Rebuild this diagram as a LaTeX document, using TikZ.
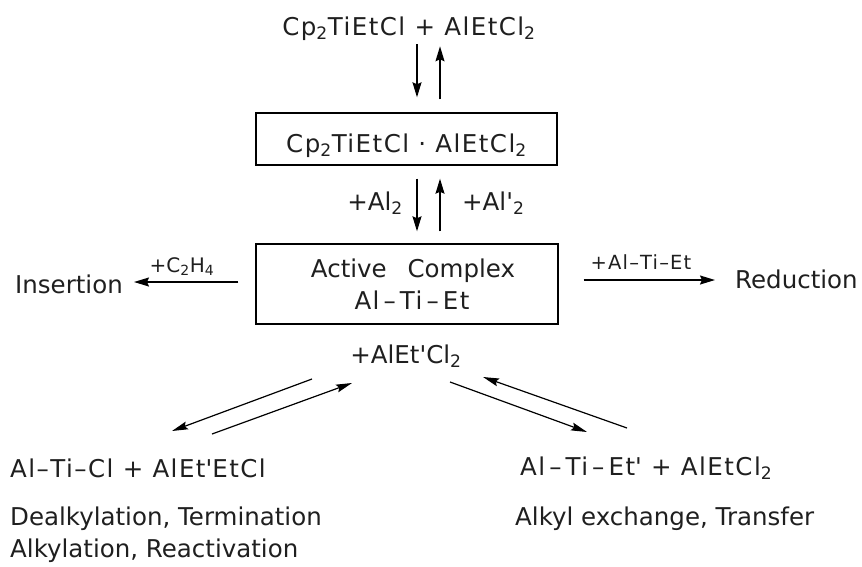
\documentclass[tikz,border=0pt]{standalone}
\usepackage{fontspec}
\setmainfont{DejaVu Sans}
\newfontfamily\fsp[LetterSpace=6]{DejaVu Sans}
\usetikzlibrary{arrows.meta,calc}
\newcommand{\pr}{\textquotesingle}
\newcommand{\dsh}{\,–\,}
\begin{document}
\begin{tikzpicture}[x=1pt,y=-1pt,
  every node/.style={font=\fontsize{24.5}{32}\selectfont, inner sep=0pt, text=black!88},
  formula/.style={font=\fontsize{24.5}{32}\selectfont\fsp},
  small/.style={font=\fontsize{20}{24}\selectfont},
  smallf/.style={font=\fontsize{19.5}{24}\selectfont\fsp},
  box/.style={draw, line width=1.4pt},
  arr/.style={line width=1.4pt, -{Stealth[length=15pt,width=9pt,inset=2pt]}},
  darr/.style={line width=1.2pt, -{Stealth[length=16pt,width=8pt,inset=2.5pt]}}]
\useasboundingbox (0,0) rectangle (862,566);

% top reactants
\node[formula, anchor=base] (top) at (409,35) {Cp\textsubscript{2}TiEtCl + AlEtCl\textsubscript{2}};

% first box
\node[box, formula, minimum width=301pt, minimum height=52pt, text height=26pt, text depth=0pt] (box1) at (406.5,139)
  {Cp\textsubscript{2}TiEtCl · AlEtCl\textsubscript{2}};

% second box
\node[box, formula, minimum width=302pt, minimum height=80pt, align=center] (box2) at (407,284)
  {\hspace*{12pt}{\normalfont Active\hspace{0.85em}Complex}\\\hspace*{10pt}Al\dsh Ti\dsh Et};

% arrows top <-> box1
\draw[arr] ([xshift=10.5pt,yshift=68pt]box1.north) -- ([xshift=10.5pt,yshift=15pt]box1.north);
\draw[arr] ([xshift=33.5pt,yshift=13pt]box1.north) -- ([xshift=33.5pt,yshift=66pt]box1.north);

% arrows box1 <-> box2
\draw[arr] ([xshift=10.5pt,yshift=-13pt]box1.south) -- ([xshift=10pt,yshift=12pt]box2.north);
\draw[arr] ([xshift=33pt,yshift=12pt]box2.north) -- ([xshift=33.5pt,yshift=-13pt]box1.south);
\node[anchor=base east] (al2) at (403,210) {+Al\textsubscript{2}};
\node[anchor=base west] (al2p) at (462,210) {+Al\pr\textsubscript{2}};

% insertion
\node[anchor=base west] (ins) at (15,293) {Insertion};
\coordinate (insA) at ([xshift=-17pt,yshift=2pt]box2.west);
\draw[arr] (insA) -- ($(insA -| ins.east)+(11,0)$);
\node[small, anchor=base] (c2h4) at (182,272) {+C\textsubscript{2}H\textsubscript{4}};

% reduction
\node[anchor=base west] (red) at (735,288) {Reduction};
\coordinate (redA) at ([xshift=25pt,yshift=4pt]box2.east);
\draw[arr] (redA) -- ($(redA -| red.west)+(-20,0)$);
\node[smallf, anchor=base] (alti) at (641,269) {+Al–Ti–Et};

% added reagent
\node[anchor=base] (add) at (406,363) {+AlEt\pr Cl\textsubscript{2}};

% diagonal equilibria
\draw[darr] ($(add.base)+(-94,16)$) -- ($(add.base)+(-234,68)$);
\draw[darr] ($(add.base)+(-194,71)$) -- ($(add.base)+(-54,20)$);
\draw[darr] ($(add.base)+(221,65)$) -- ($(add.base)+(77,14)$);
\draw[darr] ($(add.base)+(44,19)$) -- ($(add.base)+(181,69)$);

% bottom left
\node[formula, anchor=base west] (p1) at (10,477) {Al–Ti–Cl + AlEt\pr EtCl};
\node[anchor=base west] (p2) at (10,525) {Dealkylation, Termination};
\node[anchor=base west] (p3) at (10,557) {Alkylation, Reactivation};

% bottom right
\node[formula, anchor=base west] (q1) at (520,475) {Al\dsh Ti\dsh Et\pr\ + AlEtCl\textsubscript{2}};
\node[anchor=base west] (q2) at (515,525) {Alkyl exchange, Transfer};
\end{tikzpicture}
\end{document}
